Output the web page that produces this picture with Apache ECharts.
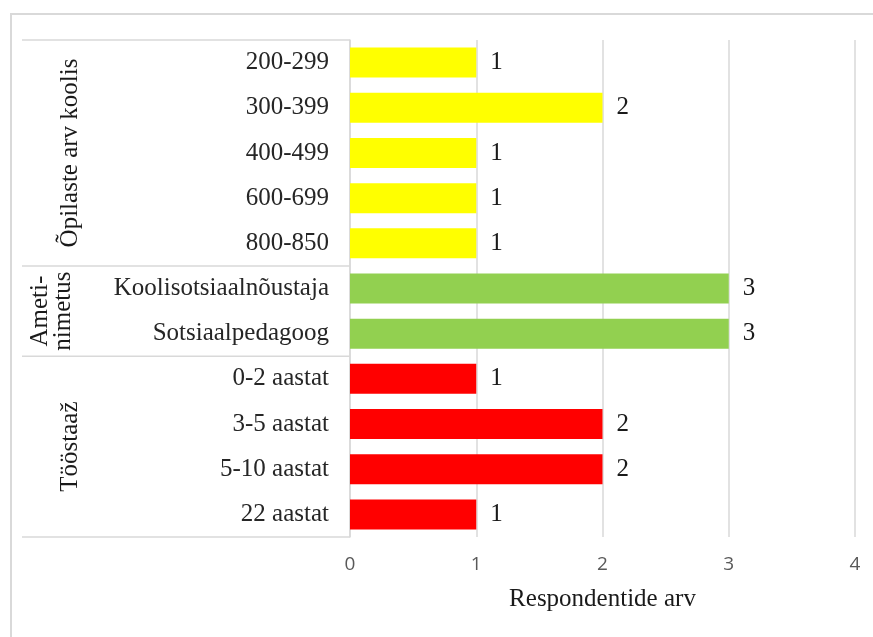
<!DOCTYPE html>
<html>
<head>
<meta charset="utf-8">
<script src="https://cdn.jsdelivr.net/npm/echarts@6/dist/echarts.min.js"></script>
<style>
  html, body { margin: 0; padding: 0; background: #fff; }
  #chart { width: 873px; height: 637px; }
</style>
</head>
<body>
<div id="chart"></div>
<script>
// andmed
const categories = ['200-299', '300-399', '400-499', '600-699', '800-850',
  'Koolisotsiaalnõustaja', 'Sotsiaalpedagoog',
  '0-2 aastat', '3-5 aastat', '5-10 aastat', '22 aastat'];
const values = [1, 2, 1, 1, 1, 3, 3, 1, 2, 2, 1];
const groupNames = ['Õpilaste arv koolis', 'Ameti-\nnimetus', 'Tööstaaž'];
const groupSizes = [5, 2, 4];
const groupColors = ['#ffff00', '#92d050', '#ff0000'];
const xTicks = [0, 1, 2, 3, 4];

const serif = '"Liberation Serif", "Times New Roman", serif';
const lineColor = '#d9d9d9';

// värv iga rea jaoks grupi järgi
const barColors = [];
groupSizes.forEach((n, g) => { for (let i = 0; i < n; i++) barColors.push(groupColors[g]); });

const myChart = echarts.init(document.getElementById('chart'));

const option = {
  animation: false,
  grid: { left: 350, right: 18, top: 40, bottom: 100 },
  xAxis: {
    type: 'value',
    min: xTicks[0],
    max: xTicks[xTicks.length - 1],
    interval: 1,
    name: 'Respondentide arv',
    nameLocation: 'middle',
    nameGap: 50,
    nameTextStyle: { fontFamily: serif, fontSize: 25, color: '#1a1a1a', verticalAlign: 'top' },
    axisLine: { show: false },
    axisTick: { show: false },
    axisLabel: { fontFamily: '"Open Sans", sans-serif', fontSize: 19, color: '#595959', margin: 18 },
    splitLine: { lineStyle: { color: lineColor, width: 1.5 } }
  },
  yAxis: {
    type: 'category',
    inverse: true,
    data: categories,
    axisLine: { lineStyle: { color: lineColor, width: 1.5 } },
    axisTick: { show: false },
    axisLabel: { fontFamily: serif, fontSize: 25, color: '#262626', margin: 21 }
  },
  series: [{
    type: 'bar',
    barWidth: 30,
    data: values.map((v, i) => ({ value: v, itemStyle: { color: barColors[i] } })),
    label: {
      show: true,
      position: 'right',
      distance: 14,
      fontFamily: serif,
      fontSize: 25,
      color: '#1a1a1a'
    }
  }]
};
myChart.setOption(option);

// grupi eraldusjooned ja pealkirjad
const graphics = [];
const halfStep = (myChart.convertToPixel({ yAxisIndex: 0 }, 1) - myChart.convertToPixel({ yAxisIndex: 0 }, 0)) / 2;
const axisX = myChart.convertToPixel({ xAxisIndex: 0 }, 0);
let start = 0;
const edges = [myChart.convertToPixel({ yAxisIndex: 0 }, 0) - halfStep];
groupSizes.forEach((n, g) => {
  const top = myChart.convertToPixel({ yAxisIndex: 0 }, start) - halfStep;
  const bottom = myChart.convertToPixel({ yAxisIndex: 0 }, start + n - 1) + halfStep;
  edges.push(bottom);
  graphics.push({
    type: 'text',
    x: g === 1 ? 52 : 70,
    y: (top + bottom) / 2,
    rotation: Math.PI / 2,
    style: {
      text: groupNames[g],
      font: '25px ' + serif,
      fill: '#1a1a1a',
      align: 'center',
      verticalAlign: 'middle',
      lineHeight: 23
    }
  });
  start += n;
});
edges.forEach(y => {
  graphics.push({
    type: 'line',
    shape: { x1: 22, y1: y, x2: axisX, y2: y },
    style: { stroke: lineColor, lineWidth: 1.5 }
  });
});
// välimine raam
graphics.push({
  type: 'polyline',
  shape: { points: [[11, 637], [11, 14], [873, 14]] },
  style: { stroke: lineColor, lineWidth: 2, fill: null }
});
myChart.setOption({ graphic: graphics });
</script>
</body>
</html>
